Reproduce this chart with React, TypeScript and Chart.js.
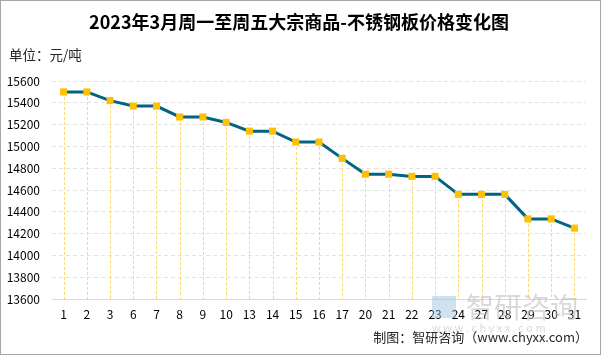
import React, { useEffect, useRef } from "react";
import { Chart, registerables } from "chart.js";

Chart.register(...registerables);

const categories = ["1", "2", "3", "6", "7", "8", "9", "10", "13", "14", "15", "16", "17", "20", "21", "22", "23", "24", "27", "28", "29", "30", "31"];
const prices = [15500, 15500, 15420, 15370, 15370, 15270, 15270, 15220, 15140, 15140, 15040, 15040, 14890, 14745, 14745, 14725, 14725, 14560, 14560, 14560, 14335, 14335, 14250];
const titleText = "2023年3月周一至周五大宗商品-不锈钢板价格变化图";
const unitText = "单位：元/吨";
const footerText = "制图：智研咨询（www.chyxx.com）";
const yMin = 13600;
const yMax = 15600;
const yStep = 200;

const FONT = "'Noto Sans CJK SC', 'Noto Sans', sans-serif";

const decorPlugin = {
  id: "decor",
  beforeDatasetsDraw(chart: any) {
    const ctx = chart.ctx;
    const meta = chart.getDatasetMeta(0);
    const bottom = chart.chartArea.bottom;
    ctx.save();
    ctx.strokeStyle = "#FFD966";
    ctx.lineWidth = 1;
    ctx.setLineDash([3, 2]);
    meta.data.forEach((pt: any) => {
      const x = Math.round(pt.x) + 0.5;
      ctx.beginPath();
      ctx.moveTo(x, pt.y);
      ctx.lineTo(x, bottom);
      ctx.stroke();
    });
    ctx.restore();
  },
  afterDraw(chart: any) {
    const ctx = chart.ctx;
    const w = chart.width;
    const h = chart.height;
    ctx.save();
    ctx.strokeStyle = "#A6A6A6";
    ctx.lineWidth = 1;
    ctx.setLineDash([]);
    ctx.strokeRect(0.5, 0.5, w - 1, h - 1);
    ctx.fillStyle = "#000000";
    ctx.font = `bold 18px ${FONT}`;
    ctx.textAlign = "center";
    ctx.textBaseline = "middle";
    ctx.fillText(titleText, 299, 22);
    ctx.font = `13.5px ${FONT}`;
    ctx.textAlign = "left";
    ctx.fillStyle = "#262626";
    ctx.fillText(unitText, 9, 55);
    // watermark
    ctx.fillStyle = "rgba(150,190,220,0.45)";
    ctx.fillRect(432, 296, 24, 22);
    ctx.fillStyle = "rgba(185,185,185,0.55)";
    ctx.font = `28px ${FONT}`;
    ctx.fillText("智研咨询", 466, 307);
    ctx.font = `11px ${FONT}`;
    ctx.fillText("w w w . c h y x x . c o m", 432, 328);
    ctx.fillStyle = "#262626";
    ctx.font = `13px ${FONT}`;
    ctx.textAlign = "right";
    ctx.fillText(footerText, 588, 337);
    ctx.restore();
  },
};

export default function App() {
  const ref = useRef<HTMLCanvasElement | null>(null);
  useEffect(() => {
    document.body.style.margin = "0";
    const chart = new Chart(ref.current as HTMLCanvasElement, {
      type: "line",
      data: {
        labels: categories,
        datasets: [
          {
            data: prices,
            borderColor: "#006482",
            borderWidth: 3,
            pointStyle: "rect",
            pointRadius: 5,
            pointBackgroundColor: "#FFC000",
            pointBorderColor: "#FFC000",
            pointBorderWidth: 0,
            tension: 0,
          },
        ],
      },
      options: {
        animation: false,
        responsive: false,
        devicePixelRatio: 1,
        layout: { padding: { left: 0, right: 15, top: 81, bottom: 32 } },
        plugins: { legend: { display: false }, tooltip: { enabled: false } },
        scales: {
          x: {
            offset: true,
            grid: { display: false, drawTicks: false },
            border: { display: true, color: "#D9D9D9", width: 1 },
            ticks: { color: "#000000", font: { family: FONT, size: 12 }, padding: 8, maxRotation: 0, autoSkip: false },
            afterFit: (s: any) => { s.height = 24; },
          },
          y: {
            min: yMin,
            max: yMax,
            grid: { color: "#E3E3E3", drawTicks: false },
            border: { display: false, dash: [4, 3] },
            ticks: {
              stepSize: yStep,
              color: "#000000",
              font: { family: FONT, size: 12 },
              padding: 12,
              callback: (v: any) => String(v),
            },
            afterFit: (s: any) => { s.width = 52; },
          },
        },
      },
      plugins: [decorPlugin],
    });
    return () => chart.destroy();
  }, []);
  return (
    <div style={{ position: "fixed", left: 0, top: 0, width: 601, height: 355, background: "#fff" }}>
      <canvas ref={ref} width={601} height={355} style={{ width: 601, height: 355 }} />
    </div>
  );
}
